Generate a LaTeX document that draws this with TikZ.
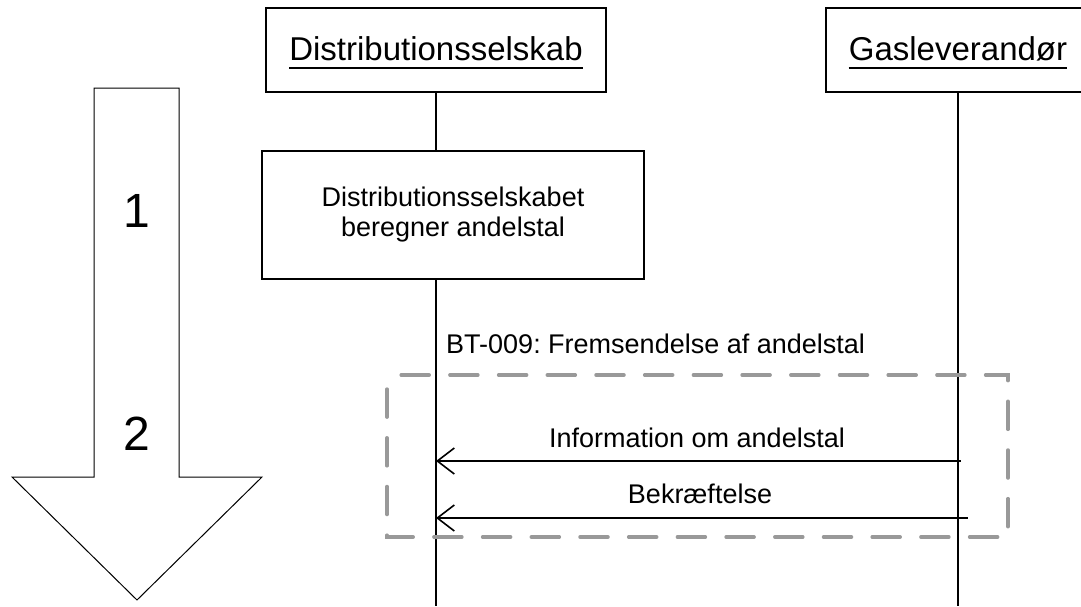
\documentclass[tikz,border=0pt]{standalone}
\usepackage{fontspec}
\setmainfont{Liberation Sans}
\frenchspacing
\usetikzlibrary{arrows.meta}
\begin{document}
\begin{tikzpicture}[x=1pt,y=-1pt,
  actorbox/.style={draw,line width=1.8pt,minimum height=84pt,inner sep=0pt},
  titletext/.style={font=\fontsize{33}{38}\selectfont,inner sep=0pt},
  procbox/.style={draw,line width=1.8pt,minimum width=382pt,minimum height=128pt,inner sep=0pt,
    align=center,font=\fontsize{27}{30}\selectfont},
  lifeline/.style={line width=2pt},
  msg/.style={line width=1.6pt,{Straight Barb[length=17pt,width=26pt,line width=1.6pt]}-},
  lbl/.style={font=\fontsize{27}{30}\selectfont,inner sep=0pt},
  digit/.style={font=\fontsize{48}{52}\selectfont,inner sep=0pt},
  dbox/.style={draw=black!40,line width=3.5pt,dash pattern=on 28pt off 20.7pt,dash phase=34.5pt,line cap=round},
  bigarrow/.style={draw,line width=1pt,fill=white}
]
\useasboundingbox (0,0) rectangle (1081,606);

% big process arrow
\draw[bigarrow] (94,88) -- (179,88) -- (179,477) -- (262,477) -- (137,600) -- (12,477) -- (94,477) -- cycle;
\node[digit,anchor=base] (n1) at (137,227) {1};
\node[digit,anchor=base] (n2) at (137,450) {2};

% actors
\node[actorbox,minimum width=340pt] (ds) at (436,50) {};
\node[titletext,anchor=base] (dst) at (436,60) {Distributionsselskab};
\draw[line width=1.5pt] ([yshift=-8pt]dst.base west) -- ([yshift=-8pt]dst.base east);

\node[actorbox,minimum width=264pt] (gl) at (958,50) {};
\node[titletext,anchor=base] (glt) at (958,60) {Gasleverandør};
\draw[line width=1.5pt] ([yshift=-8pt]glt.base west) -- ([yshift=-8pt]glt.base east);

% process box
\node[procbox] (proc) at (453,215) {Distributionsselskabet\\beregner andelstal};

% lifelines
\coordinate (dsend) at (436,606);
\coordinate (glend) at (958,606);
\draw[lifeline] (ds.south) -- (ds.south |- proc.north);
\draw[lifeline] (ds.south |- proc.south) -- (dsend);
\draw[lifeline] (gl.south) -- (glend);

% group
\draw[dbox] (387,375) -- (1008,375) -- (1008,537) -- (387,537) -- cycle;
\node[lbl,anchor=base west] (bt) at (446,353) {BT-009: Fremsendelse af andelstal};

% messages
\coordinate (m1s) at (961,461);
\coordinate (m1e) at (436,461);
\coordinate (m2s) at (968,518);
\coordinate (m2e) at (436,518);
\draw[msg] (m1e) -- (m1s);
\draw[msg] (m2e) -- (m2s);
\node[lbl,anchor=base] (l1) at (697,447) {Information om andelstal};
\node[lbl,anchor=base] (l2) at (700,503) {Bekræftelse};
\end{tikzpicture}
\end{document}
